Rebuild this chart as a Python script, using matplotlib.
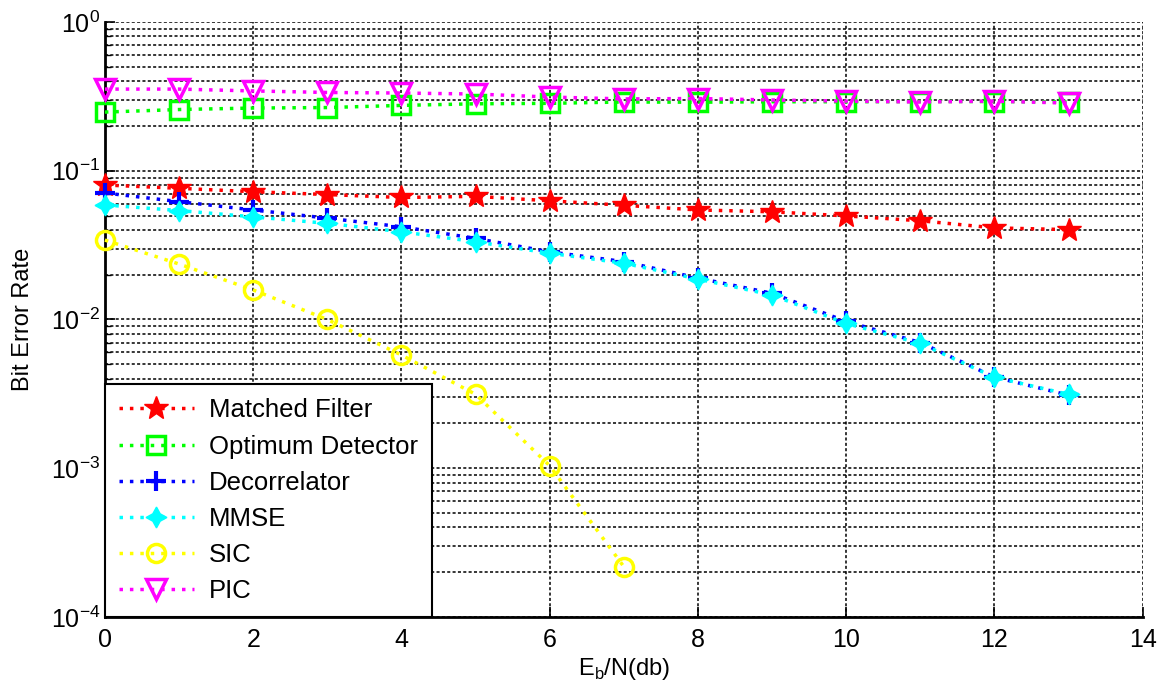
import numpy as np
import matplotlib.pyplot as plt
from matplotlib.ticker import LogLocator, NullFormatter

plt.rcParams['font.family'] = ['Liberation Sans', 'DejaVu Sans']
plt.rcParams['mathtext.fontset'] = 'custom'
plt.rcParams['mathtext.rm'] = 'Liberation Sans'

snr = np.arange(0, 14)

matched = [0.0802, 0.0762, 0.0723, 0.0692, 0.0661, 0.0673, 0.0628, 0.0586,
           0.0545, 0.0530, 0.0497, 0.0461, 0.0413, 0.0402]
optimum = [0.248, 0.258, 0.264, 0.266, 0.275, 0.282, 0.284, 0.290,
           0.289, 0.291, 0.291, 0.292, 0.292, 0.290]
decorr = [0.0709, 0.0620, 0.0545, 0.0480, 0.0420, 0.0351, 0.0285, 0.0245,
          0.0190, 0.0150, 0.0097, 0.0070, 0.0041, 0.0031]
mmse = [0.0589, 0.0540, 0.0490, 0.0443, 0.0389, 0.0333, 0.0279, 0.0239,
        0.0187, 0.0146, 0.0094, 0.0069, 0.00409, 0.00314]
sic_x = np.arange(0, 8)
sic = [0.0342, 0.0236, 0.0158, 0.0100, 0.00577, 0.00314, 0.00104, 0.000218]
pic = [0.354, 0.354, 0.344, 0.336, 0.333, 0.328, 0.313, 0.304,
       0.306, 0.299, 0.294, 0.290, 0.294, 0.285]

fig = plt.figure(figsize=(11.66, 6.92), dpi=100)
ax = fig.add_axes([0.090, 0.1084, 0.890, 0.8598])

lw = 2.5
dots = (0, (1, 2))
ax.plot(snr, matched, color='red', ls=dots, lw=lw, marker='*', ms=18,
        mfc='red', mec='red', label='Matched Filter', clip_on=False, zorder=3)
ax.plot(snr, optimum, color=(0, 1, 0), ls=dots, lw=lw, marker='s', ms=13,
        mfc='none', mec=(0, 1, 0), mew=2.5, label='Optimum Detector', clip_on=False, zorder=3)
ax.plot(snr, decorr, color='blue', ls=dots, lw=lw, marker='+', ms=14,
        mew=3, label='Decorrelator', clip_on=False, zorder=3)
ax.plot(snr, mmse, color='cyan', ls=dots, lw=lw, marker=(4, 1, 0), ms=15,
        mfc='cyan', mec='cyan', label='MMSE', clip_on=False, zorder=3)
ax.plot(sic_x, sic, color='yellow', ls=dots, lw=lw, marker='o', ms=13,
        mfc='none', mec='yellow', mew=2.5, label='SIC', clip_on=False, zorder=3)
ax.plot(snr, pic, color='magenta', ls=dots, lw=lw, marker='v', ms=15,
        mfc='none', mec='magenta', mew=2.5, label='PIC', clip_on=False, zorder=3)

ax.set_yscale('log')
ax.set_ylim(1e-4, 1)
ax.set_xlim(0, 14)
ax.set_xticks(range(0, 15, 2))
ax.yaxis.set_major_locator(LogLocator(base=10, numticks=10))
ax.yaxis.set_minor_locator(LogLocator(base=10, subs=np.arange(2, 10), numticks=20))
ax.yaxis.set_minor_formatter(NullFormatter())

gstyle = dict(color='black', ls=(0, (2, 1.5)), lw=1.1)
ax.grid(True, which='major', axis='both', **gstyle)
ax.grid(True, which='minor', axis='y', **gstyle)
ax.set_axisbelow(True)

ax.spines['top'].set_visible(False)
ax.spines['right'].set_visible(False)
ax.spines['left'].set_linewidth(2)
ax.spines['bottom'].set_linewidth(2)
ax.tick_params(which='major', direction='in', length=7, width=1.2, labelsize=18)
ax.tick_params(which='minor', direction='in', length=4, width=1.0)
ax.tick_params(axis='x', pad=8)

ax.set_xlabel(r'E$_\mathregular{b}$/N(db)', fontsize=17, labelpad=3)
ax.set_ylabel('Bit Error Rate', fontsize=17, labelpad=12)

leg = ax.legend(loc='lower left', fontsize=18.5, frameon=True, fancybox=False,
                edgecolor='black', framealpha=1, borderaxespad=0,
                handlelength=2.9, handletextpad=0.6, labelspacing=0.47,
                borderpad=0.55)
leg.get_frame().set_linewidth(1.5)

fig.savefig('out.png', dpi=100)
